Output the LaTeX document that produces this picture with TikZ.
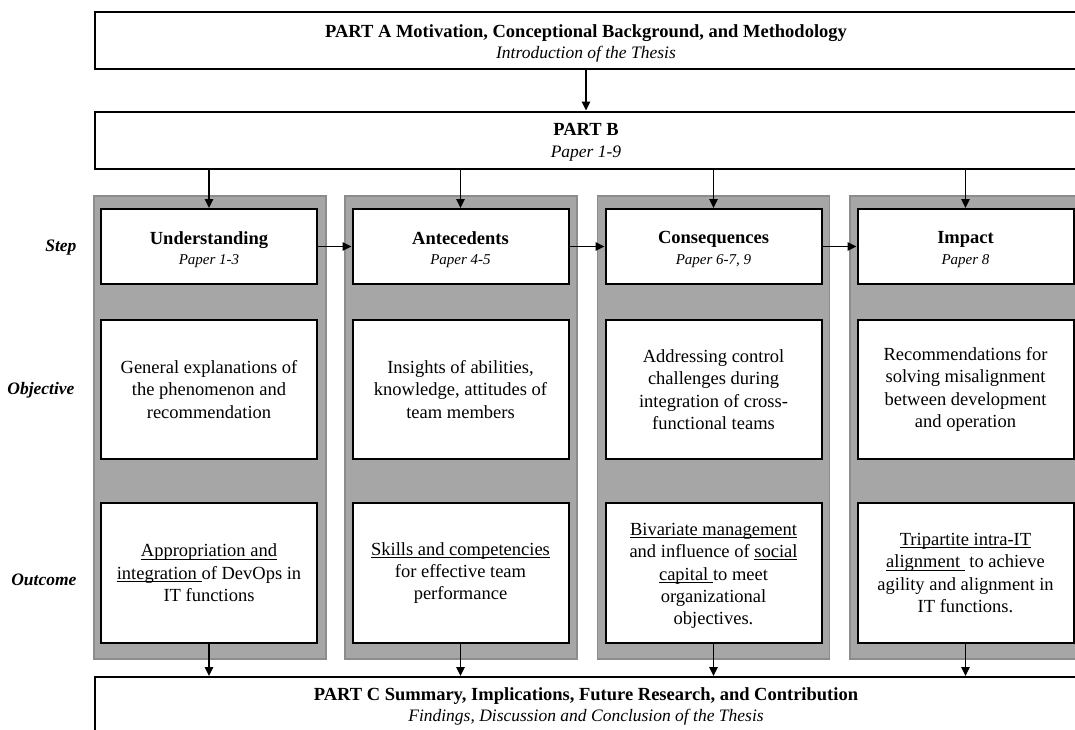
\documentclass[tikz,border=0pt]{standalone}
\usepackage{fontspec}
\setmainfont{Liberation Serif}
\usetikzlibrary{arrows.meta}
\definecolor{panelfill}{RGB}{166,166,166}
\definecolor{panelline}{RGB}{140,140,140}

% underline drawn just under the baseline, as a word processor sets it
\newcommand{\uline}[1]{\setbox0\hbox{#1}\rlap{\rule[-2.6pt]{\wd0}{0.9pt}}\box0}

\begin{document}
\begin{tikzpicture}[x=1pt,y=-1pt,
  part/.style={draw=black, line width=2pt, fill=white, minimum width=982pt,
    minimum height=57pt, inner sep=0pt},
  parttext/.style={align=center, inner sep=0pt, font=\fontsize{18.5}{22}\selectfont},
  panel/.style={draw=panelline, line width=1.5pt, fill=panelfill,
    minimum width=232pt, minimum height=463pt, inner sep=0pt},
  cell/.style={draw=black, line width=2pt, fill=white, minimum width=216pt,
    inner sep=0pt, align=center, font=\fontsize{18.5}{22.4}\selectfont},
  celltext/.style={align=center, inner sep=0pt, font=\fontsize{18.5}{22.4}\selectfont},
  stepbox/.style={cell, minimum height=75pt},
  objbox/.style={cell, minimum height=139pt},
  outbox/.style={cell, minimum height=140pt},
  rowlabel/.style={anchor=east, font=\fontsize{17.5}{20}\selectfont\bfseries\itshape},
  flow/.style={line width=1.5pt, -{Triangle[length=9pt,width=8.5pt]}}
]
\newcommand{\subline}[1]{{\itshape\fontsize{15}{18}\selectfont #1}}
\newcommand{\partline}[1]{{\itshape\fontsize{17.5}{20}\selectfont #1}}
\useasboundingbox (0,0) rectangle (1075,729);
\clip (0,0) rectangle (1075,729);

% thesis parts
\node[part] (pa) at (586,40.5) {};
\node[parttext] (pat) at (586,43) {\textbf{PART A Motivation, Conceptional Background, and Methodology}\\[-1pt]\partline{Introduction of the Thesis}};
\node[part] (pb) at (586,140) {};
\node[parttext] (pbt) at (586,142.5) {\textbf{PART B}\\[0pt]\partline{Paper 1-9}};
\node[part] (pc) at (586,705.5) {};
\node[parttext] (pct) at (586,706.5) {\textbf{PART C Summary, Implications, Future Research, and Contribution}\\[-1pt]\partline{Findings, Discussion and Conclusion of the Thesis}};

% column panels
\node[panel] (p1) at (210,427.5) {};
\node[panel] (p2) at (461,427.5) {};
\node[panel] (p3) at (713.5,427.5) {};
\node[panel] (p4) at (966,427.5) {};

% row labels
\node[rowlabel] (lstep) at (80,248) {Step};
\node[rowlabel] (lobj) at (78,390) {Objective};
\node[rowlabel] (lout) at (80,580) {Outcome};

% steps
\node[stepbox] (s1) at (209,246.5) {};
\node[stepbox] (s2) at (460.5,246.5) {};
\node[stepbox] (s3) at (713.5,246.5) {};
\node[stepbox] (s4) at (965.5,246.5) {};
\node[celltext] (s1t) at (209,249.5) {\textbf{Understanding}\\[-2pt]\subline{Paper 1-3}};
\node[celltext] (s2t) at (460.5,249.5) {\textbf{Antecedents}\\[-2pt]\subline{Paper 4-5}};
\node[celltext] (s3t) at (713.5,249.5) {\textbf{Consequences}\\[-2pt]\subline{Paper 6-7, 9}};
\node[celltext] (s4t) at (965.5,249.5) {\textbf{Impact}\\[-2pt]\subline{Paper 8}};

% objectives
\node[objbox] (o1) at (209,389.5) {General explanations of\\the phenomenon and\\recommendation};
\node[objbox] (o2) at (460.5,389.5) {Insights of abilities,\\knowledge, attitudes of\\team members};
\node[objbox] (o3) at (713.5,389.5) {Addressing control\\challenges during\\integration of cross-\\functional teams};
\node[objbox] (o4) at (965.5,389.5) {Recommendations for\\solving misalignment\\between development\\and operation};

% outcomes
\node[outbox] (u1) at (209,573) {\uline{Appropriation and}\\\uline{integration\ }of DevOps in\\IT functions};
\node[outbox] (u2) at (460.5,573) {\uline{Skills and competencies}\\for effective team\\performance};
\node[outbox] (u3) at (713.5,573) {};
\node[celltext] (u3t) at (713.5,576) {\uline{Bivariate management}\\and influence of \uline{social}\\\uline{capital\ }to meet\\organizational\\objectives.};
\node[outbox] (u4) at (965.5,573) {\uline{Tripartite intra-IT}\\\uline{alignment\ }\ to achieve\\agility and alignment in\\IT functions.};

% connectors
\draw[flow] (pa.south) -- (pb.north);
\foreach \s in {s1,s2,s3,s4} {
  \draw[flow] (pb.south -| \s.north) -- (\s.north);
}
\draw[flow] (s1.east) -- (s2.west);
\draw[flow] (s2.east) -- (s3.west);
\draw[flow] (s3.east) -- (s4.west);
\foreach \u in {u1,u2,u3,u4} {
  \draw[flow] (\u.south) -- (\u.south |- pc.north);
}
\end{tikzpicture}
\end{document}
